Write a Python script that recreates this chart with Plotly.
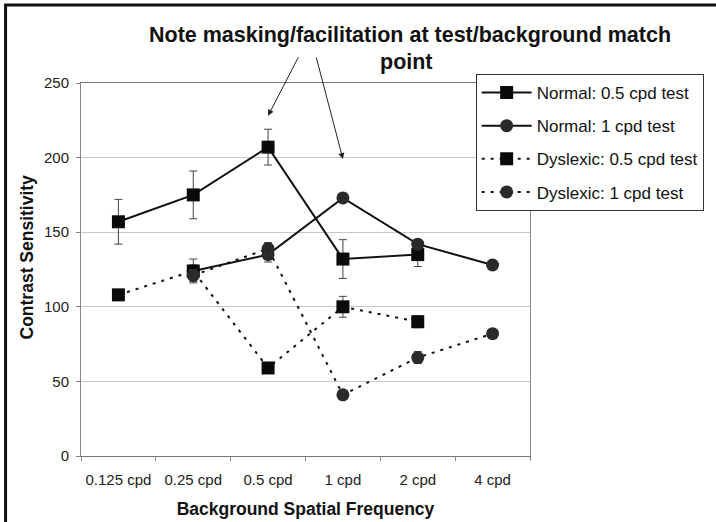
import plotly.graph_objects as go

# background spatial frequency categories
categories = ["0.125 cpd", "0.25 cpd", "0.5 cpd", "1 cpd", "2 cpd", "4 cpd"]

normal_05 = [157, 175, 207, 132, 135, None]
normal_05_err = [15, 16, 12, 13, 8, 0]
normal_1 = [None, 124, 135, 173, 142, 128]
normal_1_err = [0, 4, 5, 3, 3, 0]
dyslexic_05 = [108, 124, 59, 100, 90, None]
dyslexic_05_err = [0, 8, 0, 7, 4, 0]
dyslexic_1 = [None, 121, 139, 41, 66, 82]
dyslexic_1_err = [0, 4, 4, 0, 4, 0]

series_names = [
    "Normal: 0.5 cpd test",
    "Normal: 1 cpd test",
    "Dyslexic: 0.5 cpd test",
    "Dyslexic: 1 cpd test",
]

FONT = "Arial, Liberation Sans, sans-serif"


def add_series(fig, name, values, errors, symbol, dash, color):
    fig.add_trace(
        go.Scatter(
            x=categories,
            y=values,
            name=name,
            legendgroup=name,
            mode="lines+markers",
            connectgaps=False,
            line=dict(color="#111111", width=2, dash=dash),
            marker=dict(symbol=symbol, size=13, color=color),
            error_y=dict(
                type="data", array=errors, visible=True,
                color="#444444", thickness=1, width=4
            ),
        )
    )


fig = go.Figure()
add_series(fig, series_names[0], normal_05, normal_05_err,
           "square", "solid", "#0a0a0a")
add_series(fig, series_names[1], normal_1, normal_1_err,
           "circle", "solid", "#2a2a2a")
add_series(fig, series_names[2], dyslexic_05, dyslexic_05_err,
           "square", "3px,6px", "#0a0a0a")
add_series(fig, series_names[3], dyslexic_1, dyslexic_1_err,
           "circle", "3px,6px", "#2a2a2a")

fig.update_layout(
    width=716,
    height=522,
    margin=dict(l=81, r=182, t=83, b=66),
    paper_bgcolor="white",
    plot_bgcolor="white",
    font=dict(family=FONT, size=15, color="#222222"),
    xaxis=dict(
        type="category",
        range=[-0.5, len(categories) - 0.5],
        automargin=False,
        tickson="boundaries",
        ticks="outside",
        ticklen=4,
        tickcolor="#888888",
        ticklabelstandoff=10,
        tickangle=0,
        showgrid=False,
        showline=True,
        linecolor="#777777",
        linewidth=1,
        mirror=True,
        tickfont=dict(size=15, color="#222222"),
        title=dict(
            text="<b>Background Spatial Frequency</b>",
            font=dict(size=17.5, color="#111111"),
            standoff=15,
        ),
    ),
    yaxis=dict(
        range=[0, 250],
        dtick=50,
        automargin=False,
        ticks="outside",
        ticklen=4,
        tickcolor="#888888",
        ticklabelstandoff=4,
        showgrid=True,
        gridcolor="#c8c8c8",
        gridwidth=1,
        zeroline=False,
        showline=True,
        linecolor="#888888",
        linewidth=1,
        mirror=True,
        tickfont=dict(size=15, color="#222222"),
    ),
    legend=dict(
        x=0.879,
        y=1.024,
        xanchor="left",
        yanchor="top",
        bgcolor="white",
        bordercolor="#333333",
        borderwidth=1,
        font=dict(size=17, color="#111111"),
        tracegroupgap=8,
        itemwidth=50,
    ),
    showlegend=True,
)

# y axis title, placed a little above the plot centre as in the original
fig.add_annotation(
    xref="paper", yref="paper", x=-0.121, y=0.534,
    xanchor="center", yanchor="middle", textangle=-90,
    text="<b>Contrast Sensitivity</b>",
    showarrow=False, font=dict(size=17.5, color="#111111"),
)

# title text above the plot
fig.add_annotation(
    xref="paper", yref="paper", x=0.733, y=1.129,
    xanchor="center", yanchor="middle",
    text="<b>Note masking/facilitation at test/background match</b>",
    showarrow=False, font=dict(size=21.5, color="#111111"),
)
fig.add_annotation(
    xref="paper", yref="paper", x=0.726, y=1.057,
    xanchor="center", yanchor="middle",
    text="<b>point</b>",
    showarrow=False, font=dict(size=21.5, color="#111111"),
)

# arrows pointing at the match points
fig.add_annotation(
    x="0.5 cpd", y=228, text="", showarrow=True,
    arrowhead=2, arrowsize=1.2, arrowwidth=1, arrowcolor="#222222",
    ax=31, ay=-60,
)
fig.add_annotation(
    x="1 cpd", y=199, text="", showarrow=True,
    arrowhead=2, arrowsize=1.2, arrowwidth=1, arrowcolor="#222222",
    ax=-27, ay=-103,
)

# outer frame (only left and top edges fall inside the picture)
fig.add_shape(
    type="rect", xref="paper", yref="paper",
    x0=-0.168, x1=1.45, y0=-0.25, y1=1.209,
    line=dict(color="#111111", width=3),
)

fig.write_html(
    "out.html",
    config={"displayModeBar": False},
    post_script="document.body.style.margin='0';"
                "document.body.style.overflow='hidden';",
)
